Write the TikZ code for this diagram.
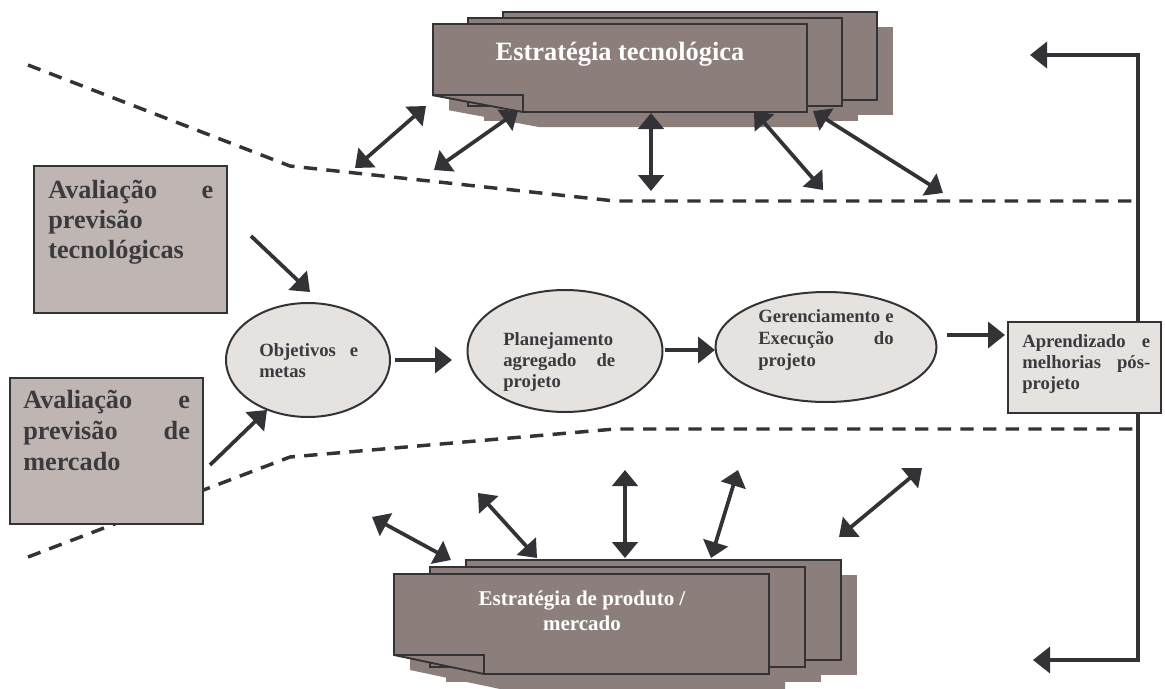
\documentclass[tikz,border=0pt]{standalone}
\usepackage{fontspec}
\setmainfont{Liberation Serif}
\usetikzlibrary{arrows.meta,shapes.geometric}

\definecolor{inkc}{HTML}{333337}
\definecolor{txtc}{HTML}{3B3A3E}
\definecolor{sheetc}{HTML}{8C7F7B}
\definecolor{lboxc}{HTML}{BFB5B2}
\definecolor{procc}{HTML}{E6E2E0}

\tikzset{
  sheet/.style={fill=sheetc,draw=inkc,line width=1.4pt},
  lbox/.style={rectangle,draw=inkc,fill=lboxc,line width=1.5pt,inner sep=0pt},
  proc/.style={ellipse,draw=inkc,fill=procc,line width=1.5pt,inner sep=0pt},
  probox/.style={rectangle,draw=inkc,fill=procc,line width=1.5pt,inner sep=0pt},
  bigtxt/.style={inner sep=0pt,text=txtc,align=left,anchor=base west,
    font=\bfseries\fontsize{19.7pt}{22.8pt}\selectfont},
  smalltxt/.style={inner sep=0pt,text=txtc,align=left,anchor=base west,
    font=\bfseries\fontsize{14pt}{16pt}\selectfont},
  doctxt/.style={inner sep=0pt,text=white,align=center,anchor=base},
  flow/.style={draw=inkc,line width=2.8pt,-{Triangle[length=12.75pt,width=19.5pt]}},
  both/.style={draw=inkc,line width=2.8pt,
    {Triangle[length=12pt,width=19pt]}-{Triangle[length=12pt,width=19pt]}},
  boundary/.style={draw=inkc,line width=2.6pt,dash pattern=on 10pt off 7pt},
}

% A stack of three sheets with drop shadows; the front sheet has a turned-up corner.
% #1,#2 = top-left of the front sheet, #3,#4 = sheet size, #5,#6 = step between sheets
\newcommand{\paperstack}[6]{%
  \foreach \k in {2,1}
    \fill[sheetc] ({#1+\k*#5+16},{#2-\k*#6+15}) rectangle ++(#3,#4);
  \fill[sheetc] ({#1+16},{#2+15}) -- ++(#3,0) -- ++(0,#4) -- ++({-0.76*#3},0)
    -- ({#1+16},{#2+15+0.81*#4}) -- cycle;
  \foreach \k in {2,1}
    \filldraw[sheet] ({#1+\k*#5},{#2-\k*#6}) rectangle ++(#3,#4);
  \filldraw[sheet] (#1,#2) -- ++(#3,0) -- ++(0,#4) -- ++({-0.76*#3},0)
    -- (#1,{#2+0.81*#4}) -- cycle;
  \draw[sheet,fill=none] (#1,{#2+0.81*#4}) -- ++({0.24*#3},0) -- ++(0,{0.19*#4});
}

\begin{document}
\begin{tikzpicture}[x=0.75pt,y=-0.75pt]
\useasboundingbox (0,0) rectangle (1165,689);

% boundaries of the project funnel
\draw[boundary] (28,65) -- (290,166) -- (615,201) -- (1138,201);
\draw[boundary] (28,557) -- (290,457) -- (615,429) -- (1138,429);

% strategy documents
\paperstack{433}{24}{374}{88}{35}{6}
\node[doctxt,font=\bfseries\fontsize{19.8pt}{23pt}\selectfont] (techstrat) at (620,60)
  {Estratégia tecnológica};
\paperstack{394}{574}{375}{100}{36}{7}
\node[doctxt,font=\bfseries\fontsize{15.75pt}{18.4pt}\selectfont] (prodstrat) at (582,630)
  {Estratégia de produto /\\mercado};

% assessment boxes
\node[lbox,minimum width=144.75pt,minimum height=110.25pt] (techbox) at (130.5,239.5) {};
\node[bigtxt,text width=123.75pt] (techtxt) at (48,198)
  {Avaliação\hfill e\\previsão\\tecnológicas};
\node[lbox,minimum width=144.75pt,minimum height=109.5pt] (mktbox) at (106.5,451) {};
\node[bigtxt,text width=125pt,font=\bfseries\fontsize{19.7pt}{23.3pt}\selectfont] (mkttxt) at (23,408)
  {Avaliação\hfill e\\previsão\hfill de\\mercado};

% project process
\node[proc,minimum width=123pt,minimum height=85.5pt] (goals) at (308,360) {};
\node[smalltxt,text width=74.25pt] (goalstxt) at (259,356) {Objetivos\hfill e\\metas};
\node[proc,minimum width=146.25pt,minimum height=91.5pt] (plan) at (565,351) {};
\node[smalltxt,text width=84pt] (plantxt) at (503,345) {Planejamento\\agregado\hfill de\\projeto};
\node[proc,minimum width=165.75pt,minimum height=82.5pt] (exec) at (826,347) {};
\node[smalltxt,text width=101.5pt,font=\bfseries\fontsize{14pt}{16.8pt}\selectfont] (exectxt) at (758,322)
  {Gerenciamento\hfill e\\Execução\hfill do\\projeto};
\node[probox,minimum width=114.75pt,minimum height=68.25pt] (learn) at (1084.5,367.5) {};
\node[smalltxt,text width=96pt] (learntxt) at (1022,347)
  {Aprendizado\hfill e\\melhorias\hfill pós-\\projeto};

% arrow ends
\coordinate (ta1) at (355,168); \coordinate (tb1) at (426,106);
\coordinate (ta2) at (434,170); \coordinate (tb2) at (518,111);
\coordinate (ta3) at (651,191); \coordinate (tb3) at (651,113);
\coordinate (ta4) at (823,190); \coordinate (tb4) at (754,111);
\coordinate (ta5) at (943,193); \coordinate (tb5) at (813,111);
\coordinate (ba1) at (372,517); \coordinate (bb1) at (451,560);
\coordinate (ba2) at (478,493); \coordinate (bb2) at (537,558);
\coordinate (ba3) at (625,470); \coordinate (bb3) at (625,558);
\coordinate (ba4) at (738,470); \coordinate (bb4) at (711,558);
\coordinate (ba5) at (922,468); \coordinate (bb5) at (839,537);
\coordinate (techout) at (251,236); \coordinate (goalsin1) at (310,292);
\coordinate (mktout) at (210,465);  \coordinate (goalsin2) at (267,410);
\coordinate (g2p) at (395,360); \coordinate (p2g) at (452,360);
\coordinate (p2e) at (665,350); \coordinate (e2p) at (715,350);
\coordinate (e2l) at (947,335); \coordinate (l2e) at (1005,335);
\coordinate (loopup) at (1138,55);  \coordinate (loopupend) at (1030,55);
\coordinate (loopdown) at (1138,660); \coordinate (loopdownend) at (1033,660);

% exchanges with the strategies
\foreach \i in {1,...,5} {
  \draw[both] (ta\i) -- (tb\i);
  \draw[both] (ba\i) -- (bb\i);
}

% main flow
\draw[flow] (techout) -- (goalsin1);
\draw[flow] (mktout) -- (goalsin2);
\draw[flow] (g2p) -- (p2g);
\draw[flow] (p2e) -- (e2p);
\draw[flow] (e2l) -- (l2e);

% feedback of the lessons learned
\draw[flow] (learn.north -| loopup) -- (loopup) -- (loopupend);
\draw[flow] (learn.south -| loopdown) -- (loopdown) -- (loopdownend);
\end{tikzpicture}
\end{document}
